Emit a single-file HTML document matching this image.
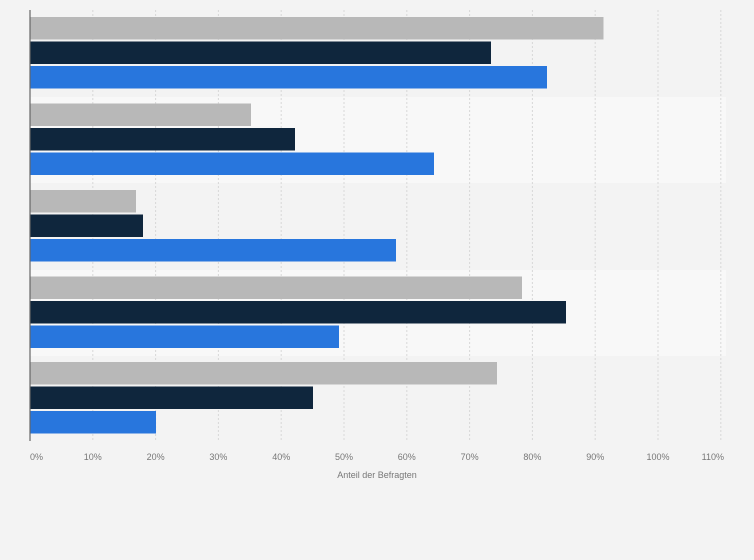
<!DOCTYPE html><html><head><style>body{margin:0;background:#f3f3f3;font-family:"Liberation Sans",sans-serif}</style></head><body>
<svg width="754" height="560" xmlns="http://www.w3.org/2000/svg" style="display:block">
<rect width="754" height="560" fill="#f3f3f3"/>
<rect x="30" y="97" width="696" height="86" fill="#f8f8f8"/>
<rect x="30" y="270" width="696" height="86" fill="#f8f8f8"/>
<g stroke="#d8d8d8" stroke-dasharray="2,2" stroke-width="1">
<line x1="92.8" y1="10" x2="92.8" y2="441"/><line x1="155.6" y1="10" x2="155.6" y2="441"/><line x1="218.4" y1="10" x2="218.4" y2="441"/><line x1="281.2" y1="10" x2="281.2" y2="441"/><line x1="344" y1="10" x2="344" y2="441"/><line x1="406.8" y1="10" x2="406.8" y2="441"/><line x1="469.6" y1="10" x2="469.6" y2="441"/><line x1="532.4" y1="10" x2="532.4" y2="441"/><line x1="595.2" y1="10" x2="595.2" y2="441"/><line x1="658" y1="10" x2="658" y2="441"/><line x1="720.8" y1="10" x2="720.8" y2="441"/>
</g>
<g id="bars">
<rect x="30" y="17" width="573.5" height="22.5" fill="#b8b8b8"/>
<rect x="30" y="41.5" width="461" height="22.5" fill="#0f263d"/>
<rect x="30" y="66" width="517" height="22.5" fill="#2876dd"/>
<rect x="30" y="103.5" width="221" height="22.5" fill="#b8b8b8"/>
<rect x="30" y="128" width="265" height="22.5" fill="#0f263d"/>
<rect x="30" y="152.5" width="404" height="22.5" fill="#2876dd"/>
<rect x="30" y="190" width="106" height="22.5" fill="#b8b8b8"/>
<rect x="30" y="214.5" width="113" height="22.5" fill="#0f263d"/>
<rect x="30" y="239" width="366" height="22.5" fill="#2876dd"/>
<rect x="30" y="276.5" width="492" height="22.5" fill="#b8b8b8"/>
<rect x="30" y="301" width="536" height="22.5" fill="#0f263d"/>
<rect x="30" y="325.5" width="309" height="22.5" fill="#2876dd"/>
<rect x="30" y="362" width="467" height="22.5" fill="#b8b8b8"/>
<rect x="30" y="386.5" width="283" height="22.5" fill="#0f263d"/>
<rect x="30" y="411" width="126" height="22.5" fill="#2876dd"/>
</g>
<line x1="30" y1="10" x2="30" y2="441" stroke="#666" stroke-width="1.2"/>
<g font-size="9" fill="#777" text-anchor="middle">
<text x="30" y="460" text-anchor="start">0%</text><text x="92.8" y="460">10%</text><text x="155.6" y="460">20%</text><text x="218.4" y="460">30%</text><text x="281.2" y="460">40%</text><text x="344" y="460">50%</text><text x="406.8" y="460">60%</text><text x="469.6" y="460">70%</text><text x="532.4" y="460">80%</text><text x="595.2" y="460">90%</text><text x="658" y="460">100%</text><text x="724" y="460" text-anchor="end">110%</text>
<text x="377" y="478">Anteil der Befragten</text>
</g>
</svg></body></html>
